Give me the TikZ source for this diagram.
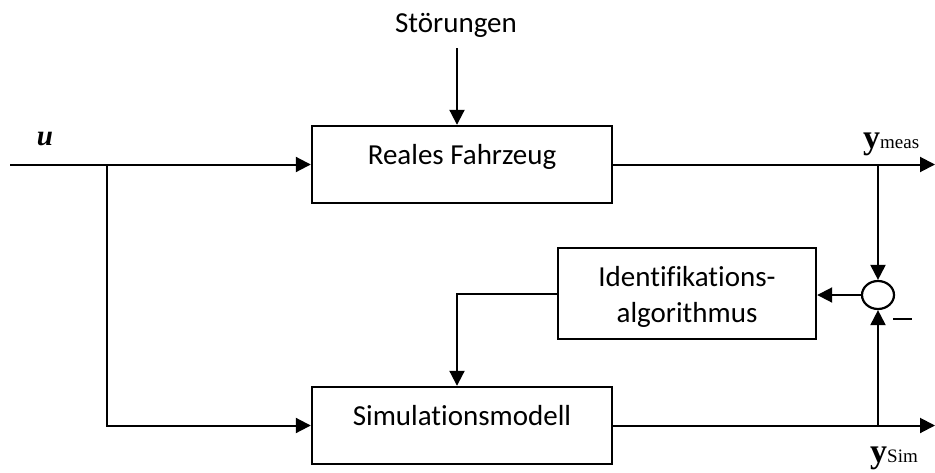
\documentclass[tikz,border=0pt]{standalone}
\usepackage{fontspec}
\setmainfont{Carlito}[Ligatures=NoCommon]
\newfontfamily\tnr{Liberation Serif}
\usetikzlibrary{arrows.meta,shapes.geometric}
\begin{document}
\begin{tikzpicture}[x=1pt,y=-1pt,
  lbl/.style={font=\fontsize{29}{36}\selectfont, inner sep=0pt},
  blk/.style={draw, line width=2.4pt, minimum width=300pt, minimum height=77pt, inner sep=0pt,
    font=\fontsize{29}{36}\selectfont, text height=12pt, text depth=12pt},
  idblk/.style={draw, line width=2.4pt, minimum width=258pt, minimum height=91pt, inner sep=0pt,
    font=\fontsize{29}{36}\selectfont, align=center},
  conn/.style={line width=2pt},
  arr/.style={conn, -{Triangle[length=15pt,width=15pt]}},
  sumnode/.style={draw, ellipse, line width=2.2pt, minimum width=32pt, minimum height=28pt, inner sep=0pt}
]
\useasboundingbox (0,0) rectangle (935,472);

% nodes
\node[lbl, anchor=base] (stoer) at (456,32) {Störungen};
\node[blk] (real) at (462,164.5) {Reales Fahrzeug};
\node[blk] (sim) at (462,425.5) {Simulationsmodell};
\node[idblk] (ident) at (687,293.5) {\rule{0pt}{26pt}Identifikations-\\algorithmus};
\node[sumnode] (sum) at (878,295) {};
\node[inner sep=0pt, anchor=base] (u) at (45,145) {\tnr\bfseries\itshape\fontsize{29}{29}\selectfont u};
\node[inner sep=0pt, anchor=base west] (ymeas) at (863,148) {{\tnr\bfseries\fontsize{34}{34}\selectfont y}{\tnr\fontsize{19}{19}\selectfont meas}};
\node[inner sep=0pt, anchor=base west] (ysim) at (870,462) {{\tnr\bfseries\fontsize{34}{34}\selectfont y}{\tnr\fontsize{19}{19}\selectfont Sim}};
\node[inner sep=0pt] (minus) at (902.5,319) {\rule{19pt}{2.6pt}};

% coordinates
\coordinate (s1) at (457,48);
\coordinate (in) at (10,164.5);
\coordinate (b1) at (107,164.5);
\coordinate (outm) at (935,164.5);
\coordinate (outs) at (935,425.5);
\coordinate (b2) at (878,164.5);
\coordinate (b3) at (878,425.5);
\coordinate (b4) at (457,294);

% connectors
\draw[arr] (s1) -- (s1 |- real.north);
\draw[arr] (in) -- (real.west);
\draw[arr] (b1) -- (b1 |- sim.west) -- (sim.west);
\draw[arr] (real.east) -- (outm);
\draw[arr] (sim.east) -- (outs);
\draw[arr] (b2) -- (sum.north);
\draw[arr] (b3) -- (sum.south);
\draw[arr] (sum.west) -- (ident.east |- sum.west);
\draw[arr] (ident.west |- b4) -- (b4) -- (b4 |- sim.north);
\end{tikzpicture}
\end{document}
